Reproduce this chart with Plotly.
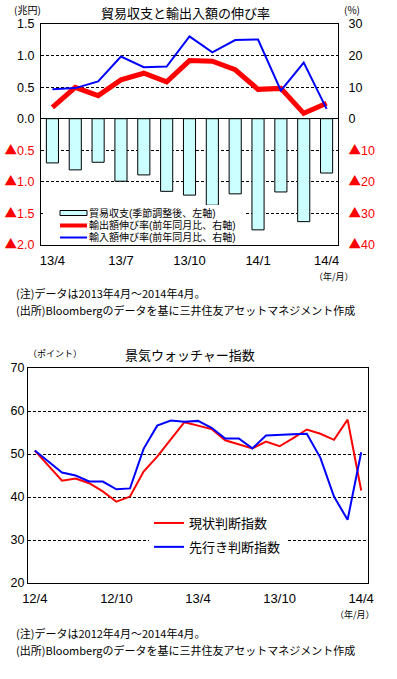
import plotly.graph_objects as go

W, H = 397, 679
FONT = "Noto Sans CJK JP"
NUMFONT = "Liberation Sans, Noto Sans CJK JP"


def fx(x):
    return x / W


def fy(y):
    return 1 - y / H


# ---------------- data: top chart ----------------
months_top = ["13/4", "13/5", "13/6", "13/7", "13/8", "13/9", "13/10",
              "13/11", "13/12", "14/1", "14/2", "14/3", "14/4"]
trade_balance = [-0.70, -0.81, -0.69, -0.99, -0.89, -1.15, -1.21,
                 -1.37, -1.19, -1.76, -1.16, -1.63, -0.86]  # 兆円
export_growth = [3.6, 9.9, 7.3, 12.3, 14.4, 11.7, 18.4,
                 18.2, 15.5, 9.3, 9.6, 1.7, 4.9]  # %
import_growth = [9.3, 9.7, 11.8, 19.7, 16.3, 16.5, 26.1,
                 21.0, 24.9, 25.1, 8.9, 17.8, 3.1]  # %
top_names = ["貿易収支(季節調整後、左軸)", "輸出額伸び率(前年同月比、右軸)",
             "輸入額伸び率(前年同月比、右軸)"]
top_ticks = ["13/4", "13/7", "13/10", "14/1", "14/4"]
left_vals = [-2.0, -1.5, -1.0, -0.5, 0.0, 0.5, 1.0, 1.5]
left_text = ["▲2.0", "▲1.5", "▲1.0", "▲0.5", "0.0", "0.5", "1.0", "1.5"]
right_vals = [-40, -30, -20, -10, 0, 10, 20, 30]
right_text = ["▲40", "▲30", "▲20", "▲10", "0", "10", "20", "30"]

# ---------------- data: bottom chart ----------------
months_bot = ["12/4", "12/5", "12/6", "12/7", "12/8", "12/9", "12/10", "12/11",
              "12/12", "13/1", "13/2", "13/3", "13/4", "13/5", "13/6", "13/7",
              "13/8", "13/9", "13/10", "13/11", "13/12", "14/1", "14/2", "14/3",
              "14/4"]
current_di = [50.8, 47.3, 43.8, 44.3, 43.2, 41.3, 38.9, 40.1, 45.9, 49.4,
              53.3, 57.4, 56.6, 55.8, 53.2, 52.2, 51.3, 52.9, 51.8, 53.7,
              55.7, 54.7, 53.3, 58.0, 41.5]
future_di = [50.8, 48.2, 45.7, 45.0, 43.6, 43.6, 41.8, 42.0, 51.2, 56.6,
             57.8, 57.5, 57.7, 56.1, 53.6, 53.6, 51.3, 54.3, 54.5, 54.6,
             54.7, 49.1, 40.1, 34.7, 50.4]
bot_ticks = ["12/4", "12/10", "13/4", "13/10", "14/4"]


def red_neg(texts):
    out = []
    for t in texts:
        if t.startswith("▲"):
            out.append("<span style='color:#ff0000'>"
                       "<span style='font-family:Noto Sans CJK JP'>▲</span>"
                       f"{t[1:]}</span>")
        else:
            out.append(t)
    return out


fig = go.Figure()

fig.add_trace(go.Bar(
    x=months_top, y=trade_balance, name=top_names[0],
    marker=dict(color="#ccffff", line=dict(color="black", width=1)),
    width=0.53, xaxis="x", yaxis="y", showlegend=False))
fig.add_trace(go.Scatter(
    x=months_top, y=export_growth, name=top_names[1],
    mode="lines", line=dict(color="#ff0000", width=5),
    xaxis="x", yaxis="y2", showlegend=False))
fig.add_trace(go.Scatter(
    x=months_top, y=import_growth, name=top_names[2],
    mode="lines", line=dict(color="#0000ff", width=2),
    xaxis="x", yaxis="y2", showlegend=False))

fig.add_trace(go.Scatter(
    x=months_bot, y=current_di, name="現状判断指数", legendgroup="a",
    mode="lines", line=dict(color="#ff0000", width=2),
    xaxis="x2", yaxis="y3", legend="legend2"))
fig.add_trace(go.Scatter(
    x=months_bot, y=future_di, name="先行き判断指数", legendgroup="b",
    mode="lines", line=dict(color="#0000ff", width=2),
    xaxis="x2", yaxis="y3", legend="legend2"))

xtickfont = dict(family=NUMFONT, size=13, color="black")
ytickfont = dict(family=NUMFONT, size=12.5, color="black")
grid = dict(showgrid=True, gridcolor="black", gridwidth=1, griddash="3px,2px")

top_dom_y = [fy(245), fy(24)]
bot_dom_y = [fy(583), fy(368)]

fig.update_layout(
    width=W, height=H, margin=dict(l=0, r=0, t=0, b=0, autoexpand=False),
    paper_bgcolor="white", plot_bgcolor="white",
    font=dict(family=FONT, color="black"),
    barmode="overlay",
    xaxis=dict(domain=[fx(41), fx(338)], type="category", range=[-0.5, 12.5],
               anchor="y", tickmode="array", tickvals=top_ticks, ticktext=top_ticks,
               ticks="outside", ticklen=3, tickcolor="rgba(0,0,0,0)",
               tickfont=xtickfont, showline=True, linecolor="black",
               linewidth=1, mirror=True, showgrid=False, automargin=False),
    xaxis3=dict(overlaying="x", anchor="free", position=fy(118.5),
                range=[-0.5, 12.5], tickmode="array", tickvals=[2.5, 5.5, 8.5, 11.5],
                ticks="inside", ticklen=5, tickcolor="black", showticklabels=False,
                showline=False, showgrid=False, zeroline=False, automargin=False),
    yaxis=dict(domain=top_dom_y, range=[-2.0, 1.5], anchor="x",
               tickmode="array", tickvals=left_vals, ticktext=red_neg(left_text),
               tickfont=ytickfont, ticks="outside", ticklen=3,
               tickcolor="rgba(0,0,0,0)", showline=True, linecolor="black",
               linewidth=1, mirror=True, zeroline=True, zerolinecolor="black",
               zerolinewidth=1, automargin=False, **grid),
    yaxis2=dict(overlaying="y", side="right", anchor="x", range=[-40, 30],
                tickmode="array", tickvals=right_vals, ticktext=red_neg(right_text),
                tickfont=ytickfont, ticks="outside", ticklen=7,
                tickcolor="rgba(0,0,0,0)", showgrid=False, zeroline=False,
                showline=False, automargin=False),
    xaxis2=dict(domain=[fx(28), fx(368)], type="category", range=[-0.5, 24.5],
                anchor="y3", tickmode="array", tickvals=bot_ticks, ticktext=bot_ticks,
                ticks="outside", ticklen=3, tickcolor="rgba(0,0,0,0)",
                tickfont=xtickfont, showline=True, linecolor="black",
                linewidth=1, mirror=True, showgrid=False, automargin=False),
    xaxis4=dict(overlaying="x2", anchor="y3", range=[-0.5, 24.5],
                tickmode="array", tickvals=[5.5, 11.5, 17.5, 23.5],
                ticks="inside", ticklen=4, tickcolor="black", showticklabels=False,
                showline=False, showgrid=False, zeroline=False, automargin=False),
    yaxis3=dict(domain=bot_dom_y, range=[20, 70], anchor="x2",
                tickmode="array", tickvals=[20, 30, 40, 50, 60, 70],
                tickfont=ytickfont, ticks="", showline=True, linecolor="black",
                linewidth=1, mirror=True, zeroline=False, automargin=False, **grid),
    legend2=dict(x=fx(149), y=fy(508), xanchor="left", yanchor="top",
                 bgcolor="white", font=dict(family=FONT, size=13, color="black"),
                 tracegroupgap=4, itemwidth=30),
    showlegend=True,
)

# ---- compact legend box for the top chart (key drawn in paper space) ----
shapes = [
    dict(type="rect", xref="paper", yref="paper", x0=fx(43), x1=fx(246),
         y0=fy(244), y1=fy(205), fillcolor="white", line=dict(width=0),
         layer="above"),
    dict(type="rect", xref="paper", yref="paper", x0=fx(60), x1=fx(87),
         y0=fy(215.5), y1=fy(210.5), fillcolor="#ccffff",
         line=dict(color="black", width=1), layer="above"),
    dict(type="line", xref="paper", yref="paper", x0=fx(60), x1=fx(87),
         y0=fy(225.5), y1=fy(225.5), line=dict(color="#ff0000", width=4),
         layer="above"),
    dict(type="line", xref="paper", yref="paper", x0=fx(60), x1=fx(87),
         y0=fy(237.5), y1=fy(237.5), line=dict(color="#0000ff", width=2),
         layer="above"),
]
fig.update_layout(shapes=shapes)

ann = []


def add_text(x, y, text, size, xanchor="left", family=FONT):
    ann.append(dict(x=fx(x), y=fy(y), xref="paper", yref="paper", text=text,
                    showarrow=False, xanchor=xanchor, yanchor="middle",
                    align="left", borderpad=0,
                    font=dict(family=family, size=size, color="black")))


for name, yy in zip(top_names, [213.0, 225.3, 237.5]):
    add_text(88, yy, name, 10, family=NUMFONT)

add_text(185, 12, "貿易収支と輸出入額の伸び率", 13, "center")
add_text(27, 10, "(兆円)", 10, "center")
add_text(352, 10, "(%)", 10, "center")
add_text(334, 276, "（年/月）", 9, "center")
add_text(15, 293, "(注)データは2013年4月～2014年4月。", 11)
add_text(15, 310, "(出所)Bloombergのデータを基に三井住友アセットマネジメント作成", 11)

add_text(190, 354, "景気ウォッチャー指数", 13, "center")
add_text(55, 353, "（ポイント）", 9, "center")
add_text(355, 614, "（年/月）", 9, "center")
add_text(15, 633, "(注)データは2012年4月～2014年4月。", 11)
add_text(15, 650, "(出所)Bloombergのデータを基に三井住友アセットマネジメント作成", 11)

fig.update_layout(annotations=ann)

fig.write_html("out.html",
               config={"displayModeBar": False, "staticPlot": True},
               post_script="document.body.style.margin='0';"
                           "document.body.style.overflow='hidden';")
